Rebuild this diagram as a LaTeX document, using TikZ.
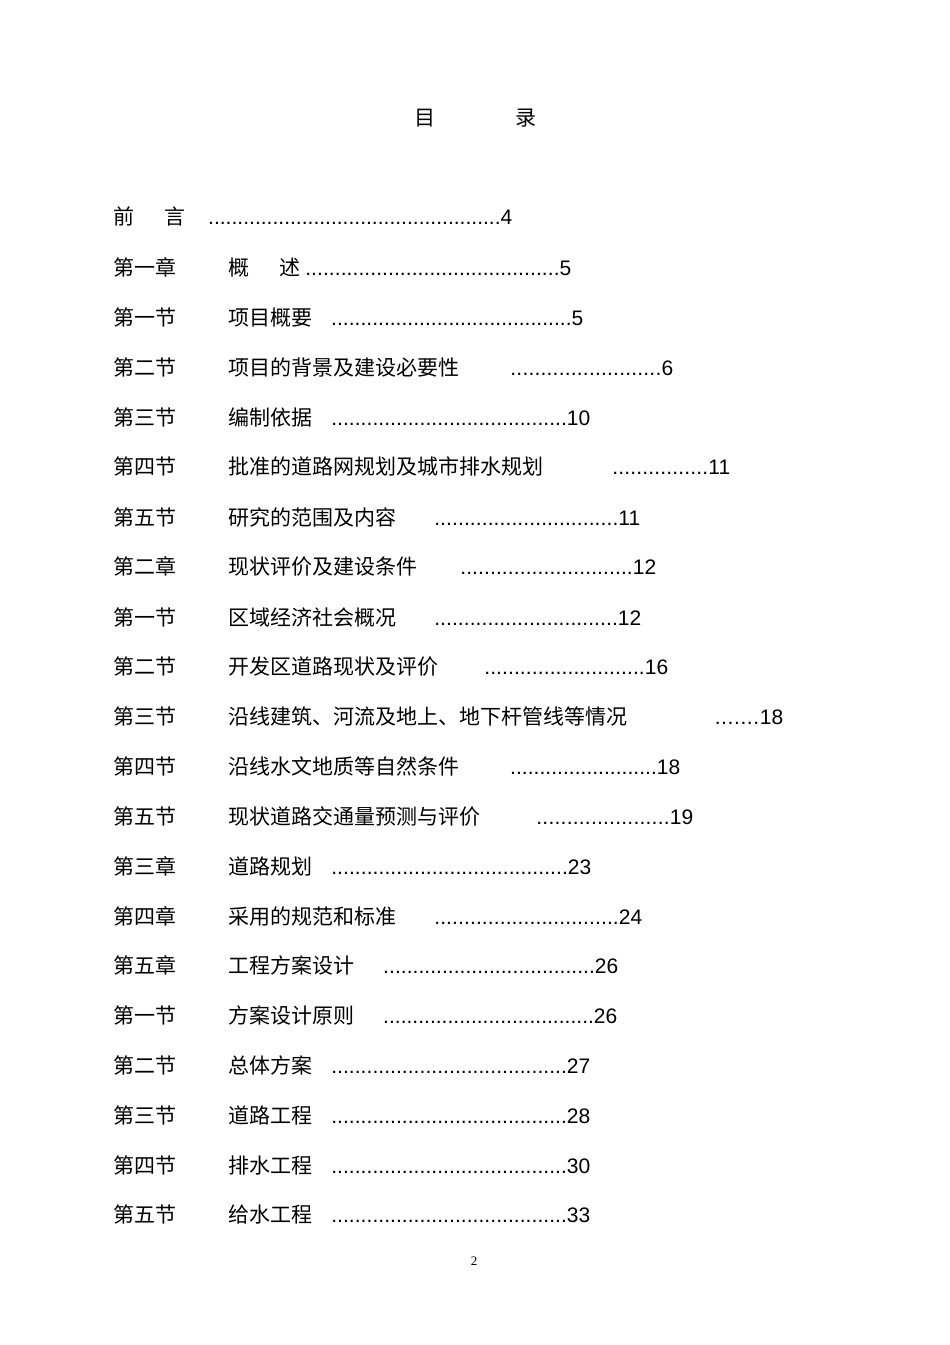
\documentclass[tikz,border=0pt]{standalone}
\usepackage{fontspec}
\setmainfont{Liberation Sans}
\newfontfamily\cjk{Noto Sans CJK SC}
\newcommand{\tocrow}[7]{%
 \node[txt] (l#1) at (113pt,-#2pt) {\cjk #3};
 \node[txt] (t#1) at (228pt,-#2pt) {\cjk #4};
 \node[txt] (d#1) at (#5pt,-#2pt) {\makebox[\dimexpr#6pt-#5pt\relax][l]{\xleaders\hbox{.}\hfill#7}};
}
\begin{document}
\begin{tikzpicture}[x=1pt,y=1pt,txt/.style={anchor=base west,inner sep=0pt,font=\fontsize{21}{24}\selectfont}]
\useasboundingbox (0,0) rectangle (950,-1345);
\node[txt] (m1) at (414,-125) {\cjk 目};
\node[txt] (m2) at (515,-125) {\cjk 录};
\node[txt] (p1) at (113,-224) {\cjk 前\hspace{30pt}言};
\node[txt] (t1) at (208,-224) {\makebox[304pt][l]{\xleaders\hbox{.}\hfill4}};
\node[txt] (p2) at (228,-275) {\cjk 概\hspace{30pt}述};
\node[txt] (l2) at (113,-275) {\cjk 第一章};
\node[txt] (t2) at (305,-275) {\makebox[266pt][l]{\xleaders\hbox{.}\hfill5}};
\tocrow{3}{325}{第一节}{项目概要}{331}{583}{5}
\tocrow{4}{375}{第二节}{项目的背景及建设必要性}{510}{673}{6}
\tocrow{5}{425}{第三节}{编制依据}{331}{590}{10}
\tocrow{6}{474}{第四节}{批准的道路网规划及城市排水规划}{612}{730}{11}
\tocrow{7}{525}{第五节}{研究的范围及内容}{434}{640}{11}
\tocrow{8}{574}{第二章}{现状评价及建设条件}{460}{656}{12}
\tocrow{9}{625}{第一节}{区域经济社会概况}{434}{641}{12}
\tocrow{10}{674}{第二节}{开发区道路现状及评价}{484}{668}{16}
\tocrow{11}{724}{第三节}{沿线建筑、河流及地上、地下杆管线等情况}{714}{783}{18}
\tocrow{12}{774}{第四节}{沿线水文地质等自然条件}{510}{680}{18}
\tocrow{13}{824}{第五节}{现状道路交通量预测与评价}{536}{693}{19}
\tocrow{14}{874}{第三章}{道路规划}{331}{591}{23}
\tocrow{15}{924}{第四章}{采用的规范和标准}{434}{642}{24}
\tocrow{16}{973}{第五章}{工程方案设计}{383}{618}{26}
\tocrow{17}{1023}{第一节}{方案设计原则}{383}{617}{26}
\tocrow{18}{1073}{第二节}{总体方案}{331}{590}{27}
\tocrow{19}{1123}{第三节}{道路工程}{331}{590}{28}
\tocrow{20}{1173}{第四节}{排水工程}{331}{590}{30}
\tocrow{21}{1222}{第五节}{给水工程}{331}{590}{33}
\node[anchor=base,inner sep=0pt,font=\fontsize{13}{15}\selectfont] (pg) at (474,-1265) {\fontspec{Liberation Serif}2};
\end{tikzpicture}
\end{document}
